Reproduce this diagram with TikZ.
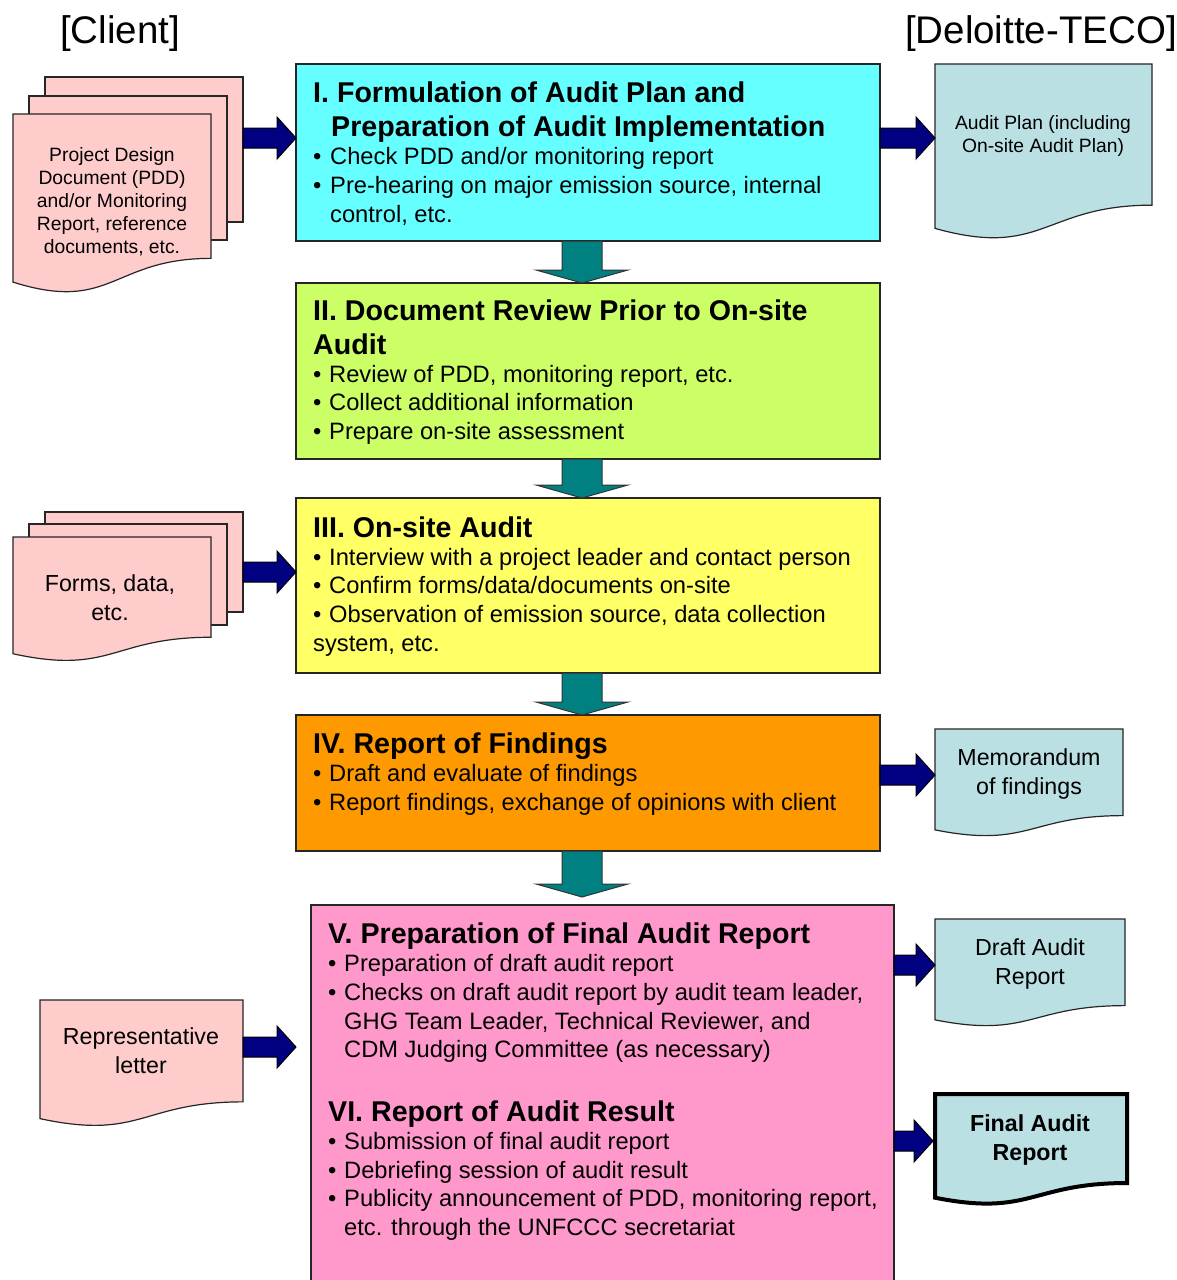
\documentclass[tikz,border=0pt]{standalone}
\usepackage{fontspec}
\setmainfont{Liberation Sans}
\usetikzlibrary{calc}
\definecolor{cI}{HTML}{66FFFF}
\definecolor{cII}{HTML}{CCFF66}
\definecolor{cIII}{HTML}{FFFF66}
\definecolor{cIV}{HTML}{FF9900}
\definecolor{cV}{HTML}{FF99CC}
\definecolor{docpink}{HTML}{FFCCCC}
\definecolor{docblue}{HTML}{BBE0E3}
\definecolor{navyc}{HTML}{000080}
\definecolor{tealc}{HTML}{008080}
\newcommand\docshape[6]{\draw[docline,fill=#5,#6] (#1,#2) -- ({#1+#3},#2) -- ({#1+#3},{#2+0.802*#4}) .. controls ({#1+0.5*#3},{#2+0.802*#4}) and ({#1+0.5*#3},{#2+1.107*#4}) .. (#1,{#2+0.934*#4}) -- cycle;}
\newcommand\fatright[2]{\draw[navyarr] let \p1=(#1), \p2=(#2) in (\x1,\y1+10pt) -- (\x2-19pt,\y1+10pt) -- (\x2-19pt,\y1+21pt) -- (\x2,\y1) -- (\x2-19pt,\y1-21pt) -- (\x2-19pt,\y1-10pt) -- (\x1,\y1-10pt) -- cycle;}
\newcommand\fatdown[2]{\draw[tealarr] let \p1=(#1), \p2=(#2) in (\x1-20pt,\y1) -- (\x1-20pt,\y2+13pt) -- (\x1-46pt,\y2+13pt) -- (\x1,\y2) -- (\x1+46pt,\y2+13pt) -- (\x1+20pt,\y2+13pt) -- (\x1+20pt,\y1) -- cycle;}
\begin{document}
\begin{tikzpicture}[x=1pt,y=-1pt,
  box/.style={draw=black!85,line width=1.3pt,inner sep=0pt,outer sep=0pt,anchor=north west,minimum width=584pt},
  docline/.style={draw=black!85,line width=1.2pt},
  navyarr/.style={draw=black,line width=1pt,fill=navyc},
  tealarr/.style={draw=black!80,line width=1pt,fill=tealc},
  hd/.style={font=\fontsize{28.6}{33}\selectfont\bfseries,inner sep=0pt,anchor=base west},
  bt/.style={font=\fontsize{23.7}{28}\selectfont,inner sep=0pt,anchor=base west},
  dt/.style={font=\fontsize{23.2}{29}\selectfont,inner sep=0pt,align=center},
  dts/.style={font=\fontsize{19.3}{23}\selectfont,inner sep=0pt,align=center},
  top/.style={font=\fontsize{38.5}{42}\selectfont,inner sep=0pt}]
\clip (0,0) rectangle (1177,1280);
\fill[white] (0,0) rectangle (1177,1280);

% headers
\node[top,anchor=base west] (client) at (60,43) {[Client]};
\node[top,anchor=base east] (deloitte) at (1177,43) {[Deloitte-TECO]};

% main boxes
\node[box,fill=cI,minimum height=177pt] (box1) at (296,64) {};
\node[box,fill=cII,minimum height=176pt] (box2) at (296,283) {};
\node[box,fill=cIII,minimum height=175pt] (box3) at (296,498) {};
\node[box,fill=cIV,minimum height=136pt] (box4) at (296,715) {};
\node[box,fill=cV,minimum width=583pt,minimum height=420pt] (box5) at (311,905) {};

% box texts
\node[hd] (t1a) at (313,102) {I. Formulation of Audit Plan and};
\node[hd] (t1b) at (331,136) {Preparation of Audit Implementation};
\node[bt] (t1c) at (313,164) {\makebox[17pt][l]{•}Check PDD and/or monitoring report};
\node[bt] (t1d) at (313,193) {\makebox[17pt][l]{•}Pre-hearing on major emission source, internal};
\node[bt] (t1e) at (330,222) {control, etc.};

\node[hd] (t2a) at (313,320) {II. Document Review Prior to On-site};
\node[hd] (t2b) at (313,354) {Audit};
\node[bt] (t2c) at (313,382) {\makebox[16pt][l]{•}Review of PDD, monitoring report, etc.};
\node[bt] (t2d) at (313,410) {\makebox[16pt][l]{•}Collect additional information};
\node[bt] (t2e) at (313,439) {\makebox[16pt][l]{•}Prepare on-site assessment};

\node[hd] (t3a) at (313,537) {III. On-site Audit};
\node[bt] (t3b) at (313,565) {\makebox[16pt][l]{•}Interview with a project leader and contact person};
\node[bt] (t3c) at (313,593) {\makebox[16pt][l]{•}Confirm forms/data/documents on-site};
\node[bt] (t3d) at (313,622) {\makebox[16pt][l]{•}Observation of emission source, data collection};
\node[bt] (t3e) at (313,651) {system, etc.};

\node[hd] (t4a) at (313,753) {IV. Report of Findings};
\node[bt] (t4b) at (313,781) {\makebox[16pt][l]{•}Draft and evaluate of findings};
\node[bt] (t4c) at (313,810) {\makebox[16pt][l]{•}Report findings, exchange of opinions with client};

\node[hd] (t5a) at (328,943) {V. Preparation of Final Audit Report};
\node[bt] (t5b) at (328,971) {\makebox[16pt][l]{•}Preparation of draft audit report};
\node[bt] (t5c) at (328,1000) {\makebox[16pt][l]{•}Checks on draft audit report by audit team leader,};
\node[bt] (t5d) at (344,1029) {GHG Team Leader, Technical Reviewer, and};
\node[bt] (t5e) at (344,1057) {CDM Judging Committee (as necessary)};

\node[hd] (t6a) at (328,1121) {VI. Report of Audit Result};
\node[bt] (t6b) at (328,1149) {\makebox[16pt][l]{•}Submission of final audit report};
\node[bt] (t6c) at (328,1178) {\makebox[16pt][l]{•}Debriefing session of audit result};
\node[bt] (t6d) at (328,1206) {\makebox[16pt][l]{•}Publicity announcement of PDD, monitoring report,};
\node[bt] (t6e) at (344,1235) {etc. through the UNFCCC secretariat};

% left documents: PDD stack
\fill[docpink,draw=black!85,line width=1.2pt] (45,77) rectangle (243,222);
\fill[docpink,draw=black!85,line width=1.2pt] (29,96) rectangle (227,240);
\docshape{13}{114}{198}{180}{docpink}{}
\node[dts] (pddtext) at (112,202) {Project Design\\Document (PDD)\\and/or Monitoring\\Report, reference\\documents, etc.};

% forms stack
\fill[docpink,draw=black!85,line width=1.2pt] (45,512) rectangle (243,612);
\fill[docpink,draw=black!85,line width=1.2pt] (29,524) rectangle (227,625);
\docshape{13}{537}{198}{125}{docpink}{}
\node[dt] (formtext) at (110,598) {Forms, data,\\etc.};

% representative letter
\docshape{40}{1000}{203}{127}{docpink}{}
\node[dt] (reptext) at (141,1051) {Representative\\letter};

% right documents
\docshape{935}{64}{217}{176}{docblue}{}
\node[dts] (aptext) at (1043,136) {Audit Plan (including\\On-site Audit Plan)};
\docshape{935}{729}{188}{108}{docblue}{}
\node[dt] (memotext) at (1029,774) {Memorandum\\of findings};
\docshape{935}{919}{190}{108}{docblue}{}
\node[dt] (drafttext) at (1030,964) {Draft Audit\\Report};
\docshape{935}{1094}{192}{111}{docblue}{line width=4pt,draw=black}
\node[dt,font=\fontsize{23.2}{29}\selectfont\bfseries] (finaltext) at (1030,1140) {Final Audit\\Report};

% arrow end coordinates
\coordinate (ax) at (582,0);
\coordinate (v5tip) at (582,897);
\coordinate (pdds) at (243,138);
\coordinate (apin) at (935,138);
\coordinate (forms) at (243,572);
\coordinate (memoin) at (935,775);
\coordinate (draftin) at (935,965);
\coordinate (reps) at (243,1047);
\coordinate (reptip) at (296,1047);
\coordinate (finalin) at (933,1141);

% teal down arrows
\fatdown{box1.south -| ax}{box2.north -| ax}
\fatdown{box2.south -| ax}{box3.north -| ax}
\fatdown{box3.south -| ax}{box4.north -| ax}
\fatdown{box4.south -| ax}{v5tip}

% navy right arrows
\fatright{pdds}{box1.west |- pdds}
\fatright{box1.east |- apin}{apin}
\fatright{forms}{box3.west |- forms}
\fatright{box4.east |- memoin}{memoin}
\fatright{box5.east |- draftin}{draftin}
\fatright{reps}{reptip}
\fatright{box5.east |- finalin}{finalin}
\end{tikzpicture}
\end{document}
